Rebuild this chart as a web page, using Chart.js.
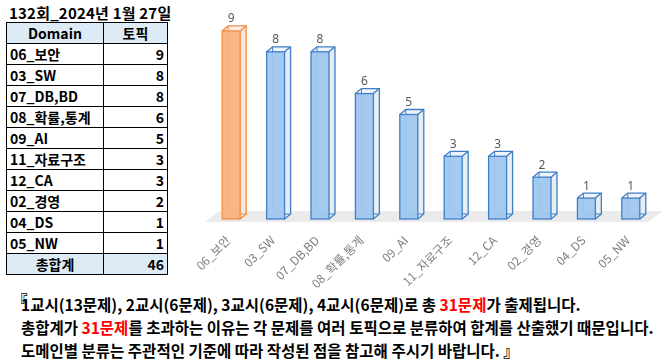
<!DOCTYPE html>
<html>
<head>
<meta charset="utf-8">
<script src="https://cdn.jsdelivr.net/npm/chart.js@4.4.1/dist/chart.umd.min.js"></script>
<style>
    body { margin: 0; width: 665px; height: 363px; background: #fff; overflow: hidden; position: relative;
           font-family: "Noto Sans CJK KR", "Noto Sans", sans-serif; }
    #title { position: absolute; left: 9px; top: 2px; font-size: 15px; font-weight: bold; color: #000; letter-spacing: 0.2px; }
    #topicTable { position: absolute; left: 6px; top: 22px; border-collapse: collapse; font-size: 14px; font-weight: bold; }
    #topicTable td, #topicTable th { border: 1px solid #000; height: 20px; padding: 0 3px; line-height: 18px; }
    #topicTable th { background: #DDEBF7; font-weight: bold; }
    #topicTable td.num { text-align: right; }
    #topicTable tr.total td { background: #DDEBF7; }
    #chartBox { position: absolute; left: 180px; top: 0; width: 485px; height: 290px; }
    #note { position: absolute; left: 12px; top: 293px; font-size: 15.5px; font-weight: bold; line-height: 23px; color: #000; }
    #note .red { color: #FF0000; }
    #note .line { padding-left: 9px; white-space: nowrap; }
    #note .br { position: absolute; left: 0; top: -4px; }
</style>
</head>
<body>
<div id="title"></div>
<table id="topicTable"></table>
<div id="chartBox"><canvas id="barChart" width="485" height="290"></canvas></div>
<div id="note">
    <span class="br">『</span>
    <div class="line">1교시(13문제), 2교시(6문제), 3교시(6문제), 4교시(6문제)로 총 <span class="red">31문제</span>가 출제됩니다.</div>
    <div class="line">총합계가 <span class="red">31문제</span>를 초과하는 이유는 각 문제를 여러 토픽으로 분류하여 합계를 산출했기 때문입니다.</div>
    <div class="line">도메인별 분류는 주관적인 기준에 따라 작성된 점을 참고해 주시기 바랍니다. 』</div>
</div>
<script>
const titleText = '132회_2024년 1월 27일';
const domains = ['06_보안', '03_SW', '07_DB,BD', '08_확률,통계', '09_AI', '11_자료구조', '12_CA', '02_경영', '04_DS', '05_NW'];
const topicCounts = [9, 8, 8, 6, 5, 3, 3, 2, 1, 1];
const totalLabel = '총합계';
const totalCount = 46;

// 표 그리기
document.getElementById('title').textContent = titleText;
const table = document.getElementById('topicTable');
let html = '<tr><th style="width:90px">Domain</th><th style="width:57px">토픽</th></tr>';
domains.forEach((d, i) => {
    html += `<tr><td>${d}</td><td class="num">${topicCounts[i]}</td></tr>`;
});
html += `<tr class="total"><td style="text-align:center">${totalLabel}</td><td class="num">${totalCount}</td></tr>`;
table.innerHTML = html;

const frontFill = domains.map((d, i) => i === 0 ? 'rgba(251,178,128,0.95)' : 'rgba(160,199,239,0.95)');
const edgeColor = domains.map((d, i) => i === 0 ? '#F28C3E' : '#3F7EC9');
const DX = 6, DY = -5;

// 3D 상자 효과
const box3d = {
    id: 'box3d',
    beforeDatasetsDraw(chart) {
        const c = chart.ctx;
        const area = chart.chartArea;
        const y0 = chart.scales.y.getPixelForValue(0);
        // 바닥
        c.save();
        c.fillStyle = '#EBEBEB';
        c.beginPath();
        c.moveTo(area.left - 4, y0 + 3);
        c.lineTo(area.right - 5, y0 + 3);
        c.lineTo(area.right + 10, y0 - 8);
        c.lineTo(area.left + 10, y0 - 8);
        c.closePath();
        c.fill();
        const meta = chart.getDatasetMeta(0);
        meta.data.forEach((bar, i) => {
            const l = bar.x - bar.width / 2, r = bar.x + bar.width / 2;
            const t = bar.y, b = bar.base;
            // 옆면, 윗면
            c.fillStyle = i === 0 ? '#EFE7E2' : '#E8EDF2';
            c.beginPath();
            c.moveTo(r, t); c.lineTo(r + DX, t + DY); c.lineTo(r + DX, b + DY); c.lineTo(r, b);
            c.closePath(); c.fill();
            c.fillStyle = i === 0 ? '#F7EEE8' : '#EEF3F8';
            c.beginPath();
            c.moveTo(l, t); c.lineTo(l + DX, t + DY); c.lineTo(r + DX, t + DY); c.lineTo(r, t);
            c.closePath(); c.fill();
            // 뒷면 모서리
            c.strokeStyle = edgeColor[i];
            c.lineWidth = 1;
            c.beginPath();
            c.moveTo(l + DX, t + DY); c.lineTo(l + DX, b + DY); c.lineTo(r + DX, b + DY);
            c.stroke();
        });
        c.restore();
    },
    afterDatasetsDraw(chart) {
        const c = chart.ctx;
        const meta = chart.getDatasetMeta(0);
        c.save();
        meta.data.forEach((bar, i) => {
            const l = bar.x - bar.width / 2, r = bar.x + bar.width / 2;
            const t = bar.y, b = bar.base;
            c.strokeStyle = edgeColor[i];
            c.lineWidth = 1.3;
            c.strokeRect(l, t, r - l, b - t);
            c.beginPath();
            c.moveTo(l, t); c.lineTo(l + DX, t + DY); c.lineTo(r + DX, t + DY); c.lineTo(r + DX, b + DY); c.lineTo(r, b);
            c.moveTo(r, t); c.lineTo(r + DX, t + DY);
            c.stroke();
            // 값 표시
            c.fillStyle = '#595959';
            c.font = '12px "Noto Sans", "DejaVu Sans", sans-serif';
            c.textAlign = 'center';
            c.textBaseline = 'bottom';
            c.fillText(topicCounts[i], bar.x, t - 6);
        });
        c.restore();
    }
};

new Chart(document.getElementById('barChart'), {
    type: 'bar',
    data: {
        labels: domains,
        datasets: [{
            data: topicCounts,
            backgroundColor: frontFill,
            borderWidth: 0,
            barPercentage: 0.405,
            categoryPercentage: 1
        }]
    },
    options: {
        responsive: false,
        animation: false,
        layout: { autoPadding: false, padding: { left: 29, right: 12, top: 10, bottom: 0 } },
        plugins: { legend: { display: false }, tooltip: { enabled: false } },
        scales: {
            y: { display: false, min: 0, max: 10 },
            x: {
                grid: { display: false, drawTicks: false },
                border: { display: false },
                afterFit: s => { s.height = 71; s.paddingLeft = 0; s.paddingRight = 0; },
                ticks: {
                    minRotation: 45, maxRotation: 45, padding: 14, autoSkip: false, labelOffset: -3,
                    color: '#7F7F7F',
                    font: { size: 12, family: '"Noto Sans CJK KR", sans-serif' }
                }
            }
        }
    },
    plugins: [box3d]
});
</script>
</body>
</html>
